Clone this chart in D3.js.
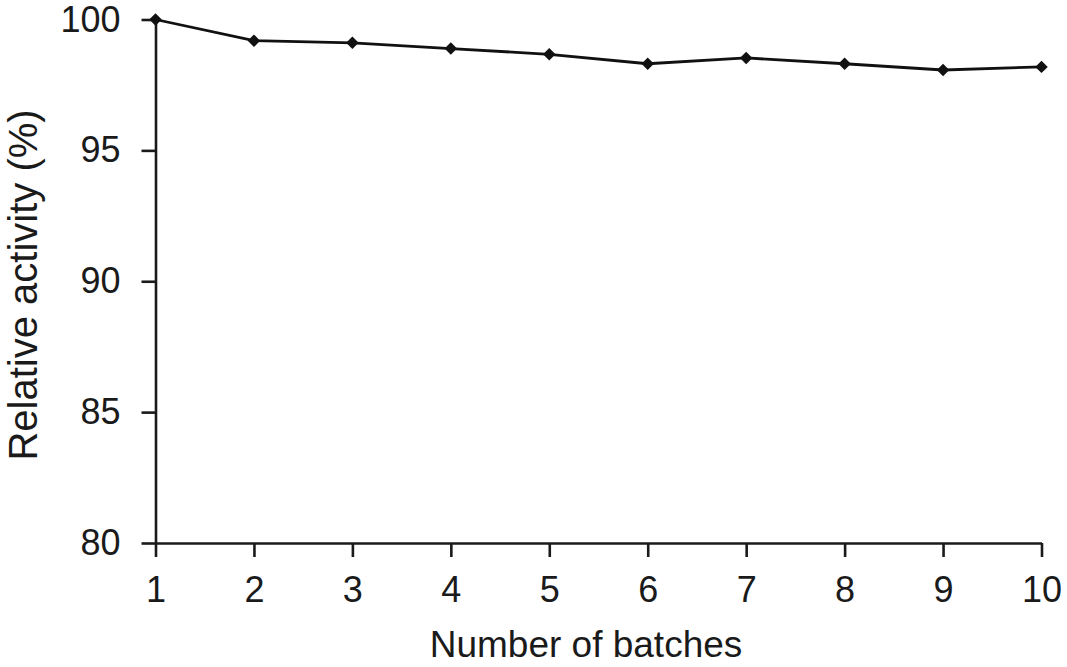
<!DOCTYPE html>
<html>
<head>
<meta charset="utf-8">
<script src="https://cdn.jsdelivr.net/npm/d3@7"></script>
<style>
  body { margin: 0; background: #fff; }
  svg { display: block; font-family: "Liberation Sans", Arial, sans-serif; }
  .axis path, .axis line { stroke: #1a1a1a; stroke-width: 2.6; }
  .axis text { fill: #1a1a1a; font-size: 36px; }
</style>
</head>
<body>
<div class="chart"></div>
<script>
// data
const batches = [1, 2, 3, 4, 5, 6, 7, 8, 9, 10]
const activity = [100, 99.19, 99.11, 98.89, 98.67, 98.31, 98.53, 98.31, 98.07, 98.19]
const yTicks = [80, 85, 90, 95, 100]

const width = 1067, height = 667
const plot = {left: 155.5, right: 1041.5, top: 19.5, bottom: 543}

const svg = d3.select(".chart").append("svg")
  .attr("width", width)
  .attr("height", height)

const x = d3.scaleLinear()
  .domain([1, 10])
  .range([plot.left, plot.right])

const y = d3.scaleLinear()
  .domain([80, 100])
  .range([plot.bottom, plot.top])

// x axis
svg.append("g")
  .attr("class", "axis")
  .attr("transform", "translate(0," + plot.bottom + ")")
  .call(d3.axisBottom(x).tickValues(batches).tickFormat(d3.format("d"))
    .tickSize(14).tickSizeOuter(0).tickPadding(19))

// y axis
svg.append("g")
  .attr("class", "axis")
  .attr("transform", "translate(" + plot.left + ",0)")
  .call(d3.axisLeft(y).tickValues(yTicks)
    .tickSize(14).tickSizeOuter(0).tickPadding(21))

// line
const data = batches.map((b, i) => ({b: b, v: activity[i]}))
svg.append("path")
  .datum(data)
  .attr("fill", "none")
  .attr("stroke", "#111")
  .attr("stroke-width", 2.8)
  .attr("stroke-linejoin", "round")
  .attr("d", d3.line().x(d => x(d.b)).y(d => y(d.v)))

// diamond markers
svg.selectAll(".pt")
  .data(data)
  .enter()
  .append("path")
    .attr("class", "pt")
    .attr("d", d3.symbol().type(d3.symbolSquare).size(78))
    .attr("transform", d => "translate(" + x(d.b) + "," + y(d.v) + ") rotate(45)")
    .attr("fill", "#111")

// axis titles
svg.append("text")
  .attr("x", 586)
  .attr("y", 657)
  .attr("text-anchor", "middle")
  .style("font-size", "37px")
  .attr("fill", "#1a1a1a")
  .text("Number of batches")

svg.append("text")
  .attr("transform", "translate(37,285) rotate(-90)")
  .attr("text-anchor", "middle")
  .style("font-size", "40px")
  .attr("fill", "#1a1a1a")
  .text("Relative activity (%)")
</script>
</body>
</html>
